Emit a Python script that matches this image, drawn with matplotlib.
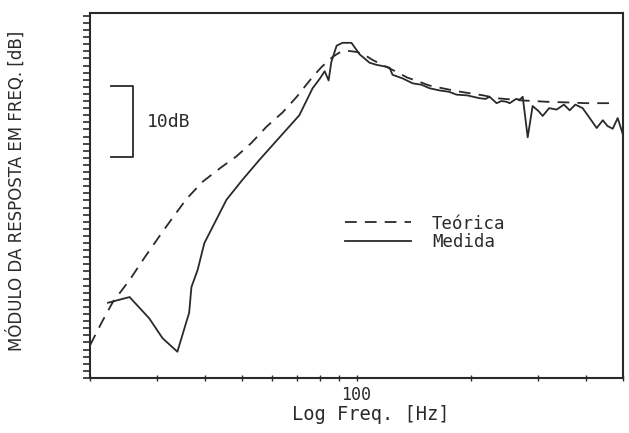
import matplotlib
matplotlib.use("Agg")
import matplotlib.pyplot as plt
from matplotlib.ticker import FixedLocator, NullFormatter, MultipleLocator, FixedFormatter
import matplotlib.transforms as mtransforms

# Theoretical response (dashed)
teo_freq = [20.0, 21.5, 22.9, 25.4, 28.0, 31.0, 33.5, 35.8, 39.4, 44.0, 48.4, 53.0,
            58.1, 64.0, 69.7, 76.7, 81.0, 86.5, 90.0, 94.1, 100.6, 105.0, 110.1, 118.0,
            127.4, 136.0, 146.4, 155.0, 168.2, 183.0, 198.0, 215.0, 233.0, 270.0,
            315.3, 360.0, 400.0, 461.0]
teo_db = [4.6, 7.9, 10.6, 13.8, 17.2, 20.6, 23.1, 25.2, 27.6, 29.6, 31.2, 33.1,
          35.4, 37.4, 39.6, 42.4, 43.8, 45.2, 45.8, 46.1, 45.9, 45.5, 44.8, 44.0,
          43.1, 42.3, 41.7, 41.2, 40.8, 40.4, 40.1, 39.8, 39.4, 39.1,
          38.9, 38.8, 38.7, 38.7]

# Measured response (solid)
med_freq = [22.3, 25.4, 28.6, 31.0, 33.9, 36.4, 36.9, 38.3, 39.9, 45.6, 50.2, 55.6,
            70.8, 76.7, 80.0, 82.5, 84.5, 85.9, 88.7, 91.9, 97.0, 98.8, 101.8, 108.2,
            112.8, 118.0, 122.1, 124.3, 132.0, 140.3, 148.0, 155.5, 165.0, 175.0, 183.0,
            195.0, 210.3, 218.0, 223.4, 233.0, 240.0, 247.5, 252.2, 262.0, 268.0, 272.9,
            281.2, 289.7, 300.0, 307.8, 320.0, 335.0, 350.0, 362.4, 375.0, 391.9, 409.0,
            426.6, 442.6, 455.0, 469.9, 484.2, 499.0]
med_db = [10.6, 11.4, 8.4, 5.6, 3.7, 9.2, 12.8, 15.2, 19.0, 25.1, 27.9, 30.7,
          37.0, 40.8, 42.1, 43.2, 41.9, 44.5, 46.8, 47.2, 47.2, 46.6, 45.6, 44.4,
          44.1, 43.9, 43.7, 42.7, 42.2, 41.5, 41.3, 40.8, 40.5, 40.3, 39.9,
          39.8, 39.4, 39.3, 39.6, 38.7, 39.0, 38.9, 38.7, 39.3, 39.2, 39.6,
          33.9, 38.3, 37.6, 36.9, 38.0, 37.8, 38.5, 37.7, 38.5, 38.0, 36.6,
          35.2, 36.3, 35.5, 35.1, 36.6, 34.4]

x_minor = [20, 30, 40, 50, 60, 70, 80, 90, 200, 300, 400, 500]
x_major = [100]
x_major_labels = ["100"]

scale_bar_db = (31.1, 41.1)

ink = "#2a2a2a"

fig = plt.figure(figsize=(6.29, 4.33), dpi=100)
ax = fig.add_axes([90 / 629, 1 - 378 / 433, (623 - 90) / 629, (378 - 13) / 433])

ax.plot(teo_freq, teo_db, color=ink, lw=1.3, linestyle=(0, (6.5, 4.5)), label="Teórica")
ax.plot(med_freq, med_db, color=ink, lw=1.3, label="Medida")

ax.set_xscale("log")
ax.set_xlim(20, 500)
ax.set_ylim(0, 51.4)

ax.xaxis.set_major_locator(FixedLocator(x_major))
ax.xaxis.set_major_formatter(FixedFormatter(x_major_labels))
ax.xaxis.set_minor_locator(FixedLocator(x_minor))
ax.xaxis.set_minor_formatter(NullFormatter())
ax.tick_params(axis="x", which="both", direction="inout", length=5, width=1.0,
               color=ink, labelsize=12, labelcolor=ink, pad=3)
for lbl in ax.get_xticklabels():
    lbl.set_family("DejaVu Sans Mono")

ax.yaxis.set_major_locator(MultipleLocator(1))
ax.yaxis.set_major_formatter(NullFormatter())
ax.tick_params(axis="y", which="major", direction="out", length=5, width=1.2, color=ink)

for s in ax.spines.values():
    s.set_color(ink)
    s.set_linewidth(1.5)

# 10 dB scale bar
trans = mtransforms.blended_transform_factory(ax.transAxes, ax.transData)
x0 = (111 - 90) / 533
x1 = (133 - 90) / 533
ax.plot([x0, x1, x1, x0], [scale_bar_db[1], scale_bar_db[1], scale_bar_db[0], scale_bar_db[0]],
        color=ink, lw=1.3, transform=trans, clip_on=False)
ax.text((147 - 90) / 533, sum(scale_bar_db) / 2, "10dB", transform=trans,
        family="DejaVu Sans Mono", fontsize=13, color=ink, va="center", ha="left")

ax.set_xlabel("Log Freq. [Hz]", family="DejaVu Sans Mono", fontsize=13.5, color=ink)
ax.xaxis.set_label_coords((371 - 90) / 533, -(405 - 378) / 365)
ax.set_ylabel("MÓDULO DA RESPOSTA EM FREQ. [dB]", family="DejaVu Sans", fontsize=12, color=ink)
ax.yaxis.set_label_coords(-(90 - 26) / 533, (378 - 191) / 365)

leg = ax.legend(loc="center left", bbox_to_anchor=((345 - 90) / 533, (378 - 233) / 365),
                frameon=False, handlelength=3.8, handletextpad=1.2, labelspacing=0.05,
                prop={"family": "DejaVu Sans Mono", "size": 12.5}, borderaxespad=0,
                borderpad=0)
for t in leg.get_texts():
    t.set_color(ink)

fig.savefig("out.png", dpi=100)
